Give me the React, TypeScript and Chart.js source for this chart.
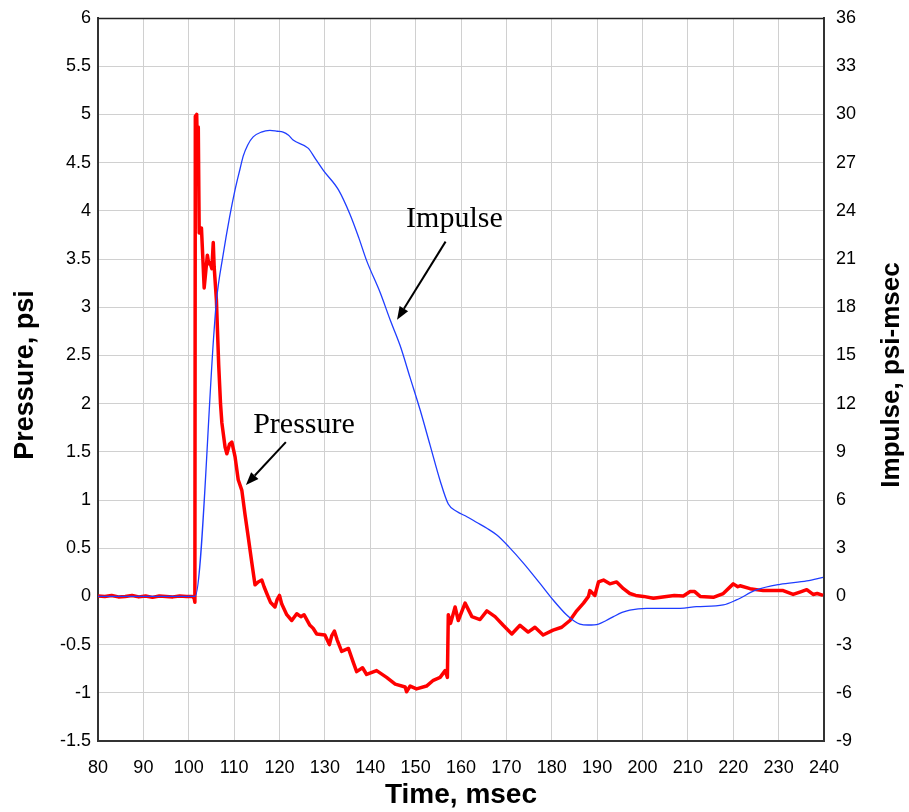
import React, { useEffect, useRef } from "react";
import { Chart, registerables } from "chart.js";

Chart.register(...registerables);

// ---- Data ----
const pressureTime: number[] = [
  80, 81.5, 83, 84.5, 86, 87.5, 89, 90.5, 92, 93.5, 95, 96.5, 98, 99.5, 100.8, 101.2, 101.35,
  101.45, 101.75, 101.95, 102.1, 102.3, 102.8, 103.4, 104.1, 104.4, 104.7, 105.1, 105.4, 105.6,
  106.1, 106.6, 107.0, 107.3, 108.0, 108.4, 109.0, 109.5, 110.2, 110.9, 111.7, 112.4, 113.1,
  113.9, 114.6, 115.3, 116.1, 116.6, 117.2, 118.0, 119.0, 119.5, 120.0, 120.5, 121.6, 122.7,
  123.8, 124.7, 125.4, 126.7, 127.4, 128.2, 130.0, 131.0, 131.5, 132.1, 132.7, 133.7, 135.2,
  136.3, 137.0, 138.3, 139.2, 141.4, 143.6, 145.5, 147.7, 148.0, 148.8, 150.2, 152.4, 153.9,
  155.4, 156.5, 157.0, 157.2, 157.7, 158.7, 159.4, 160.9, 162.4, 164.2, 165.7, 167.5, 169.3,
  171.2, 173.0, 174.8, 176.3, 178.1, 180.3, 182.2, 184.0, 185.5, 187.0, 188.1, 188.4, 189.5,
  190.3, 191.4, 192.8, 194.3, 195.8, 197.2, 198.5, 200.2, 202.4, 205.3, 207.0, 209.0, 210.5,
  211.5, 212.7, 215.6, 217.8, 220.0, 221.0, 221.5, 223.7, 226.6, 229.0, 231.0, 233.2, 235.0,
  236.2, 237.6, 238.5, 239.8,
];
const pressureValue: number[] = [
  0.005, 0, 0.01, -0.005, 0, 0.01, -0.005, 0.005, -0.01, 0.005, 0, -0.005, 0.005, 0, 0, -0.02, -0.06,
  4.98, 5.0, 4.5, 4.87, 3.77, 3.82, 3.2, 3.54, 3.45, 3.46, 3.4, 3.67, 3.42,
  3.07, 2.4, 2.0, 1.8, 1.55, 1.48, 1.58, 1.6, 1.45, 1.21, 1.1, 0.85, 0.62,
  0.35, 0.12, 0.15, 0.17, 0.1, 0.03, -0.06, -0.11, -0.03, 0.01, -0.08, -0.19, -0.25,
  -0.18, -0.21, -0.19, -0.3, -0.33, -0.39, -0.4, -0.5, -0.41, -0.36, -0.45, -0.57, -0.54,
  -0.69, -0.78, -0.74, -0.81, -0.77, -0.84, -0.91, -0.94, -0.99, -0.93, -0.96, -0.93, -0.87,
  -0.84, -0.77, -0.84, -0.19, -0.28, -0.11, -0.25, -0.07, -0.21, -0.24, -0.15, -0.21, -0.3,
  -0.39, -0.3, -0.37, -0.32, -0.4, -0.35, -0.32, -0.25, -0.15, -0.07, 0.0, 0.06, 0.01,
  0.15, 0.17, 0.13, 0.15, 0.08, 0.03, 0.01, 0.0, -0.02, 0.0, 0.01, 0.005, 0.05,
  0.05, 0.0, -0.01, 0.03, 0.13, 0.1, 0.11, 0.08, 0.06, 0.06, 0.06, 0.02, 0.05,
  0.07, 0.02, 0.03, 0.01,
];

const impulseTime: number[] = [
  80, 101.4, 105.6, 106.1, 107.6, 109.0, 110.2, 111.3, 112.0, 113.0, 114.2, 116.0, 117.9, 119.5,
  120.8, 122.0, 123.0, 126.3, 128.0, 129.7, 133.0, 135.5, 137.5, 139.2, 142.2, 144.4, 146.6,
  148.8, 151.0, 153.2, 155.4, 157.2, 159.0, 161.3, 163.5, 165.7, 167.9, 170.5, 173.8, 177.4,
  180.3, 183.3, 185.0, 186.2, 188.0, 190.3, 192.0, 193.6, 195.5, 197.2, 200.9, 208.3, 211.9,
  217.8, 220.7, 225.1, 230.3, 236.2, 239.8,
];
const impulseValue: number[] = [
  0, 0, 16.6, 18.4, 21.3, 23.6, 25.3, 26.6, 27.4, 28.1, 28.6, 28.9, 29.0, 28.95,
  28.9, 28.7, 28.4, 27.9, 27.2, 26.5, 25.3, 23.8, 22.3, 20.9, 18.9, 17.2, 15.6,
  13.6, 11.6, 9.4, 7.2, 5.75, 5.3, 4.96, 4.6, 4.24, 3.82, 3.1, 2.06, 0.81,
  -0.22, -1.16, -1.55, -1.72, -1.78, -1.72, -1.5, -1.26, -1.0, -0.85, -0.74, -0.74, -0.64,
  -0.53, -0.22, 0.4, 0.75, 0.96, 1.19,
];

// Axis ranges / tick steps
const xRange = [80, 240];
const xStep = 10;
const pressureRange = [-1.5, 6];
const pressureStep = 0.5;
const impulseRange = [-9, 36];
const impulseStep = 3;

// Text
const xTitle = "Time, msec";
const leftTitle = "Pressure, psi";
const rightTitle = "Impulse, psi-msec";

// Callout labels (in data units: time, pressure)
const calloutLabels = ["Impulse", "Pressure"];
const calloutTextPos = [
  [147.9, 3.83],
  [114.2, 1.695],
];
const calloutArrowFrom = [
  [156.6, 3.68],
  [121.4, 1.6],
];
const calloutArrowTo = [
  [145.9, 2.87],
  [112.6, 1.155],
];

const SANS = "'Liberation Sans', Arial, Helvetica, sans-serif";
const SERIF = "'Liberation Serif', 'Times New Roman', serif";

const fmt = (v: any) => String(Math.round(Number(v) * 100) / 100);

export default function App() {
  const ref = useRef<HTMLCanvasElement | null>(null);

  useEffect(() => {
    if (!ref.current) return;

    const overlay = {
      id: "overlay",
      afterDraw(chart: any) {
        const ctx = chart.ctx as CanvasRenderingContext2D;
        const a = chart.chartArea;
        const xs = chart.scales.x;
        const ys = chart.scales.y;
        ctx.save();
        // top frame line
        ctx.strokeStyle = "#222";
        ctx.lineWidth = 1.5;
        ctx.beginPath();
        ctx.moveTo(a.left, a.top + 0.5);
        ctx.lineTo(a.right, a.top + 0.5);
        ctx.stroke();

        // axis titles
        ctx.fillStyle = "#000";
        ctx.textAlign = "center";
        ctx.textBaseline = "alphabetic";
        ctx.font = `bold 28px ${SANS}`;
        ctx.fillText(xTitle, (a.left + a.right) / 2, 803);

        const cy = 375;
        ctx.font = `bold 27px ${SANS}`;
        ctx.save();
        ctx.translate(33, cy);
        ctx.rotate(-Math.PI / 2);
        ctx.fillText(leftTitle, 0, 0);
        ctx.restore();

        ctx.font = `bold 26px ${SANS}`;
        ctx.save();
        ctx.translate(899, cy);
        ctx.rotate(-Math.PI / 2);
        ctx.fillText(rightTitle, 0, 0);
        ctx.restore();

        // callouts
        ctx.font = `30px ${SERIF}`;
        ctx.textAlign = "left";
        for (let i = 0; i < calloutLabels.length; i++) {
          const tx = xs.getPixelForValue(calloutTextPos[i][0]);
          const ty = ys.getPixelForValue(calloutTextPos[i][1]);
          ctx.fillText(calloutLabels[i], tx, ty);

          const x1 = xs.getPixelForValue(calloutArrowFrom[i][0]);
          const y1 = ys.getPixelForValue(calloutArrowFrom[i][1]);
          const x2 = xs.getPixelForValue(calloutArrowTo[i][0]);
          const y2 = ys.getPixelForValue(calloutArrowTo[i][1]);
          const ang = Math.atan2(y2 - y1, x2 - x1);
          const headLen = 13;
          const headW = 5;
          const bx = x2 - headLen * Math.cos(ang);
          const by = y2 - headLen * Math.sin(ang);
          ctx.strokeStyle = "#000";
          ctx.lineWidth = 2;
          ctx.beginPath();
          ctx.moveTo(x1, y1);
          ctx.lineTo(bx, by);
          ctx.stroke();
          ctx.beginPath();
          ctx.moveTo(x2, y2);
          ctx.lineTo(bx + headW * Math.sin(ang), by - headW * Math.cos(ang));
          ctx.lineTo(bx - headW * Math.sin(ang), by + headW * Math.cos(ang));
          ctx.closePath();
          ctx.fill();
        }
        ctx.restore();
      },
    };

    const fitY = (w: number) => (s: any) => {
      s.width = w;
      s.paddingTop = 0;
      s.paddingBottom = 0;
    };

    const chart = new Chart(ref.current, {
      type: "line",
      data: {
        datasets: [
          {
            label: "Impulse",
            data: impulseTime.map((t, i) => ({ x: t, y: impulseValue[i] })),
            yAxisID: "y1",
            borderColor: "#1f3dff",
            borderWidth: 1.3,
            pointRadius: 0,
            cubicInterpolationMode: "monotone",
            fill: false,
          },
          {
            label: "Pressure",
            data: pressureTime.map((t, i) => ({ x: t, y: pressureValue[i] })),
            yAxisID: "y",
            borderColor: "#ff0000",
            borderWidth: 3.5,
            pointRadius: 0,
            tension: 0,
            borderJoinStyle: "round",
            fill: false,
          },
        ],
      },
      options: {
        responsive: false,
        animation: false,
        events: [],
        layout: { padding: { top: 18, left: 0, right: 0, bottom: 0 } },
        plugins: { legend: { display: false }, tooltip: { enabled: false } },
        scales: {
          x: {
            type: "linear",
            min: xRange[0],
            max: xRange[1],
            afterFit: (s: any) => {
              s.height = 71;
              s.paddingLeft = 0;
              s.paddingRight = 0;
            },
            ticks: {
              stepSize: xStep,
              color: "#000",
              font: { family: SANS, size: 18 },
              padding: 16,
              maxRotation: 0,
              autoSkip: false,
              callback: fmt,
            },
            grid: { color: "#d0d0d0", lineWidth: 1, drawTicks: false },
            border: { display: true, color: "#333", width: 2 },
          },
          y: {
            type: "linear",
            position: "left",
            min: pressureRange[0],
            max: pressureRange[1],
            afterFit: fitY(98),
            ticks: {
              stepSize: pressureStep,
              color: "#000",
              font: { family: SANS, size: 18 },
              padding: 7,
              autoSkip: false,
              callback: fmt,
            },
            grid: { color: "#d0d0d0", lineWidth: 1, drawTicks: false },
            border: { display: true, color: "#333", width: 2 },
          },
          y1: {
            type: "linear",
            position: "right",
            min: impulseRange[0],
            max: impulseRange[1],
            afterFit: fitY(85),
            ticks: {
              stepSize: impulseStep,
              color: "#000",
              font: { family: SANS, size: 18 },
              padding: 12,
              autoSkip: false,
              callback: fmt,
            },
            grid: { display: false, drawTicks: false },
            border: { display: true, color: "#333", width: 2 },
          },
        },
      },
      plugins: [overlay],
    } as any);

    return () => chart.destroy();
  }, []);

  return (
    <div style={{ position: "absolute", left: 0, top: 0, width: 909, height: 812, background: "#fff" }}>
      <canvas ref={ref} width={909} height={812} style={{ display: "block" }} />
    </div>
  );
}
